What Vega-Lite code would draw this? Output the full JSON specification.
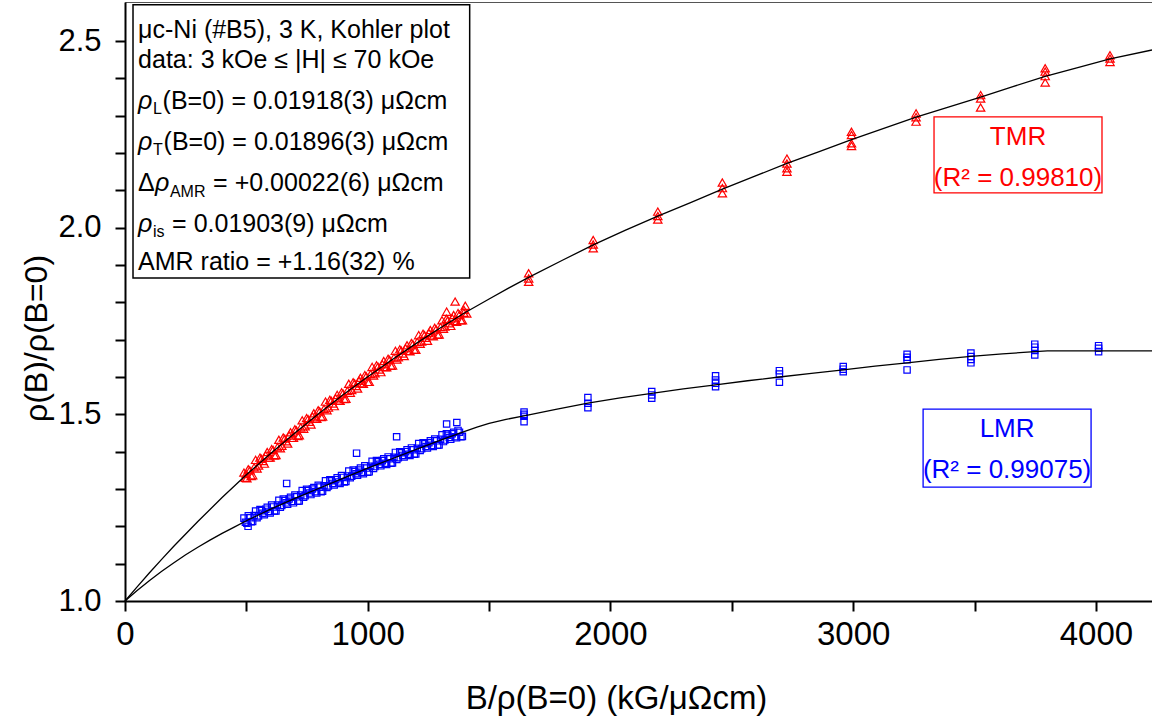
{
"$schema": "https://vega.github.io/schema/vega-lite/v6.json",
"width": 1027, "height": 599,
"autosize": "none",
"padding": {"left": 125, "top": 2, "right": 0, "bottom": 125},
"background": "white",
"config": {
  "view": {"stroke": "#555", "strokeWidth": 1},
  "axis": {"grid": false, "domainColor": "black", "domainWidth": 2, "tickColor": "black", "tickWidth": 2, "tickSize": 10, "labelColor": "black", "titleColor": "black", "labelFont": "Liberation Sans", "titleFont": "Liberation Sans", "titleFontWeight": "normal"}
},
"datasets": {
  "one": [{"k": 1}],
  "pts": [
    {"x":490,"y":1.344,"s":"TMR"},{"x":502,"y":1.329,"s":"TMR"},{"x":514,"y":1.350,"s":"TMR"},{"x":526,"y":1.337,"s":"TMR"},{"x":538,"y":1.378,"s":"TMR"},{"x":550,"y":1.363,"s":"TMR"},{"x":562,"y":1.381,"s":"TMR"},{"x":574,"y":1.368,"s":"TMR"},{"x":586,"y":1.399,"s":"TMR"},{"x":598,"y":1.384,"s":"TMR"},{"x":610,"y":1.405,"s":"TMR"},{"x":622,"y":1.391,"s":"TMR"},{"x":634,"y":1.432,"s":"TMR"},{"x":646,"y":1.416,"s":"TMR"},{"x":658,"y":1.435,"s":"TMR"},{"x":670,"y":1.422,"s":"TMR"},{"x":682,"y":1.452,"s":"TMR"},{"x":694,"y":1.437,"s":"TMR"},{"x":706,"y":1.457,"s":"TMR"},{"x":718,"y":1.444,"s":"TMR"},{"x":730,"y":1.484,"s":"TMR"},{"x":742,"y":1.468,"s":"TMR"},{"x":754,"y":1.487,"s":"TMR"},{"x":766,"y":1.473,"s":"TMR"},{"x":778,"y":1.503,"s":"TMR"},{"x":790,"y":1.488,"s":"TMR"},{"x":802,"y":1.508,"s":"TMR"},{"x":814,"y":1.494,"s":"TMR"},{"x":826,"y":1.534,"s":"TMR"},{"x":838,"y":1.518,"s":"TMR"},{"x":850,"y":1.536,"s":"TMR"},{"x":862,"y":1.522,"s":"TMR"},{"x":874,"y":1.552,"s":"TMR"},{"x":886,"y":1.536,"s":"TMR"},{"x":898,"y":1.556,"s":"TMR"},{"x":910,"y":1.542,"s":"TMR"},{"x":922,"y":1.582,"s":"TMR"},{"x":934,"y":1.565,"s":"TMR"},{"x":946,"y":1.583,"s":"TMR"},{"x":958,"y":1.569,"s":"TMR"},{"x":970,"y":1.598,"s":"TMR"},{"x":982,"y":1.582,"s":"TMR"},{"x":994,"y":1.602,"s":"TMR"},{"x":1006,"y":1.587,"s":"TMR"},{"x":1018,"y":1.627,"s":"TMR"},{"x":1030,"y":1.610,"s":"TMR"},{"x":1042,"y":1.628,"s":"TMR"},{"x":1054,"y":1.613,"s":"TMR"},{"x":1066,"y":1.643,"s":"TMR"},{"x":1078,"y":1.626,"s":"TMR"},{"x":1090,"y":1.646,"s":"TMR"},{"x":1102,"y":1.631,"s":"TMR"},{"x":1114,"y":1.670,"s":"TMR"},{"x":1126,"y":1.653,"s":"TMR"},{"x":1138,"y":1.671,"s":"TMR"},{"x":1150,"y":1.656,"s":"TMR"},{"x":1162,"y":1.685,"s":"TMR"},{"x":1174,"y":1.669,"s":"TMR"},{"x":1186,"y":1.688,"s":"TMR"},{"x":1198,"y":1.673,"s":"TMR"},{"x":1210,"y":1.712,"s":"TMR"},{"x":1222,"y":1.695,"s":"TMR"},{"x":1234,"y":1.712,"s":"TMR"},{"x":1246,"y":1.697,"s":"TMR"},{"x":1258,"y":1.726,"s":"TMR"},{"x":1270,"y":1.709,"s":"TMR"},{"x":1282,"y":1.728,"s":"TMR"},{"x":1294,"y":1.714,"s":"TMR"},{"x":1306,"y":1.752,"s":"TMR"},{"x":1318,"y":1.735,"s":"TMR"},{"x":1330,"y":1.752,"s":"TMR"},{"x":1342,"y":1.737,"s":"TMR"},{"x":1354,"y":1.766,"s":"TMR"},{"x":1366,"y":1.748,"s":"TMR"},{"x":1378,"y":1.767,"s":"TMR"},{"x":1390,"y":1.752,"s":"TMR"},{"x":1402,"y":1.791,"s":"TMR"},
    {"x":496,"y":1.330,"s":"TMR"},{"x":508,"y":1.353,"s":"TMR"},{"x":520,"y":1.335,"s":"TMR"},{"x":532,"y":1.358,"s":"TMR"},{"x":544,"y":1.355,"s":"TMR"},{"x":556,"y":1.384,"s":"TMR"},{"x":568,"y":1.375,"s":"TMR"},{"x":580,"y":1.390,"s":"TMR"},{"x":592,"y":1.384,"s":"TMR"},{"x":604,"y":1.407,"s":"TMR"},{"x":616,"y":1.390,"s":"TMR"},{"x":628,"y":1.412,"s":"TMR"},{"x":640,"y":1.409,"s":"TMR"},{"x":652,"y":1.438,"s":"TMR"},{"x":664,"y":1.428,"s":"TMR"},{"x":676,"y":1.443,"s":"TMR"},{"x":688,"y":1.437,"s":"TMR"},{"x":700,"y":1.460,"s":"TMR"},{"x":712,"y":1.442,"s":"TMR"},{"x":724,"y":1.465,"s":"TMR"},{"x":736,"y":1.461,"s":"TMR"},{"x":748,"y":1.490,"s":"TMR"},{"x":760,"y":1.480,"s":"TMR"},{"x":772,"y":1.494,"s":"TMR"},{"x":784,"y":1.489,"s":"TMR"},{"x":796,"y":1.511,"s":"TMR"},{"x":808,"y":1.493,"s":"TMR"},{"x":820,"y":1.515,"s":"TMR"},{"x":832,"y":1.511,"s":"TMR"},{"x":844,"y":1.539,"s":"TMR"},{"x":856,"y":1.529,"s":"TMR"},{"x":868,"y":1.543,"s":"TMR"},{"x":880,"y":1.537,"s":"TMR"},{"x":892,"y":1.559,"s":"TMR"},{"x":904,"y":1.541,"s":"TMR"},{"x":916,"y":1.563,"s":"TMR"},{"x":928,"y":1.558,"s":"TMR"},{"x":940,"y":1.586,"s":"TMR"},{"x":952,"y":1.576,"s":"TMR"},{"x":964,"y":1.590,"s":"TMR"},{"x":976,"y":1.583,"s":"TMR"},{"x":988,"y":1.605,"s":"TMR"},{"x":1000,"y":1.587,"s":"TMR"},{"x":1012,"y":1.608,"s":"TMR"},{"x":1024,"y":1.604,"s":"TMR"},{"x":1036,"y":1.631,"s":"TMR"},{"x":1048,"y":1.620,"s":"TMR"},{"x":1060,"y":1.634,"s":"TMR"},{"x":1072,"y":1.627,"s":"TMR"},{"x":1084,"y":1.649,"s":"TMR"},{"x":1096,"y":1.630,"s":"TMR"},{"x":1108,"y":1.652,"s":"TMR"},{"x":1120,"y":1.647,"s":"TMR"},{"x":1132,"y":1.674,"s":"TMR"},{"x":1144,"y":1.663,"s":"TMR"},{"x":1156,"y":1.677,"s":"TMR"},{"x":1168,"y":1.670,"s":"TMR"},{"x":1180,"y":1.691,"s":"TMR"},{"x":1192,"y":1.673,"s":"TMR"},{"x":1204,"y":1.694,"s":"TMR"},{"x":1216,"y":1.689,"s":"TMR"},{"x":1228,"y":1.716,"s":"TMR"},{"x":1240,"y":1.705,"s":"TMR"},{"x":1252,"y":1.718,"s":"TMR"},{"x":1264,"y":1.711,"s":"TMR"},{"x":1276,"y":1.732,"s":"TMR"},{"x":1288,"y":1.713,"s":"TMR"},{"x":1300,"y":1.734,"s":"TMR"},{"x":1312,"y":1.729,"s":"TMR"},{"x":1324,"y":1.756,"s":"TMR"},{"x":1336,"y":1.744,"s":"TMR"},{"x":1348,"y":1.757,"s":"TMR"},{"x":1360,"y":1.750,"s":"TMR"},{"x":1372,"y":1.771,"s":"TMR"},{"x":1384,"y":1.752,"s":"TMR"},{"x":1396,"y":1.772,"s":"TMR"},
    {"x":1360,"y":1.802,"s":"TMR"},{"x":1325,"y":1.775,"s":"TMR"},{"x":499,"y":1.340,"s":"TMR"},{"x":1396,"y":1.780,"s":"TMR"},{"x":1408,"y":1.770,"s":"TMR"},
    {"x":1663,"y":1.878,"s":"TMR"},{"x":1663,"y":1.864,"s":"TMR"},{"x":1663,"y":1.855,"s":"TMR"},
    {"x":1929,"y":1.967,"s":"TMR"},{"x":1929,"y":1.955,"s":"TMR"},{"x":1929,"y":1.945,"s":"TMR"},
    {"x":2195,"y":2.043,"s":"TMR"},{"x":2195,"y":2.031,"s":"TMR"},{"x":2195,"y":2.022,"s":"TMR"},
    {"x":2461,"y":2.121,"s":"TMR"},{"x":2461,"y":2.106,"s":"TMR"},{"x":2461,"y":2.092,"s":"TMR"},
    {"x":2727,"y":2.185,"s":"TMR"},{"x":2727,"y":2.172,"s":"TMR"},{"x":2727,"y":2.159,"s":"TMR"},{"x":2727,"y":2.150,"s":"TMR"},
    {"x":2993,"y":2.257,"s":"TMR"},{"x":2993,"y":2.248,"s":"TMR"},{"x":2993,"y":2.226,"s":"TMR"},{"x":2993,"y":2.219,"s":"TMR"},
    {"x":3259,"y":2.306,"s":"TMR"},{"x":3259,"y":2.296,"s":"TMR"},{"x":3259,"y":2.284,"s":"TMR"},
    {"x":3525,"y":2.355,"s":"TMR"},{"x":3525,"y":2.346,"s":"TMR"},{"x":3525,"y":2.322,"s":"TMR"},
    {"x":3791,"y":2.427,"s":"TMR"},{"x":3791,"y":2.418,"s":"TMR"},{"x":3791,"y":2.406,"s":"TMR"},{"x":3791,"y":2.389,"s":"TMR"},
    {"x":4058,"y":2.462,"s":"TMR"},{"x":4058,"y":2.453,"s":"TMR"},{"x":4058,"y":2.444,"s":"TMR"},
    {"x":490,"y":1.222,"s":"LMR"},{"x":502,"y":1.208,"s":"LMR"},{"x":514,"y":1.223,"s":"LMR"},{"x":526,"y":1.213,"s":"LMR"},{"x":538,"y":1.241,"s":"LMR"},{"x":550,"y":1.228,"s":"LMR"},{"x":562,"y":1.242,"s":"LMR"},{"x":574,"y":1.231,"s":"LMR"},{"x":586,"y":1.251,"s":"LMR"},{"x":598,"y":1.236,"s":"LMR"},{"x":610,"y":1.252,"s":"LMR"},{"x":622,"y":1.241,"s":"LMR"},{"x":634,"y":1.270,"s":"LMR"},{"x":646,"y":1.256,"s":"LMR"},{"x":658,"y":1.269,"s":"LMR"},{"x":670,"y":1.259,"s":"LMR"},{"x":682,"y":1.278,"s":"LMR"},{"x":694,"y":1.263,"s":"LMR"},{"x":706,"y":1.279,"s":"LMR"},{"x":718,"y":1.268,"s":"LMR"},{"x":730,"y":1.296,"s":"LMR"},{"x":742,"y":1.282,"s":"LMR"},{"x":754,"y":1.296,"s":"LMR"},{"x":766,"y":1.285,"s":"LMR"},{"x":778,"y":1.304,"s":"LMR"},{"x":790,"y":1.289,"s":"LMR"},{"x":802,"y":1.305,"s":"LMR"},{"x":814,"y":1.294,"s":"LMR"},{"x":826,"y":1.322,"s":"LMR"},{"x":838,"y":1.308,"s":"LMR"},{"x":850,"y":1.322,"s":"LMR"},{"x":862,"y":1.311,"s":"LMR"},{"x":874,"y":1.330,"s":"LMR"},{"x":886,"y":1.315,"s":"LMR"},{"x":898,"y":1.331,"s":"LMR"},{"x":910,"y":1.320,"s":"LMR"},{"x":922,"y":1.348,"s":"LMR"},{"x":934,"y":1.334,"s":"LMR"},{"x":946,"y":1.347,"s":"LMR"},{"x":958,"y":1.337,"s":"LMR"},{"x":970,"y":1.356,"s":"LMR"},{"x":982,"y":1.341,"s":"LMR"},{"x":994,"y":1.356,"s":"LMR"},{"x":1006,"y":1.346,"s":"LMR"},{"x":1018,"y":1.374,"s":"LMR"},{"x":1030,"y":1.360,"s":"LMR"},{"x":1042,"y":1.373,"s":"LMR"},{"x":1054,"y":1.362,"s":"LMR"},{"x":1066,"y":1.381,"s":"LMR"},{"x":1078,"y":1.366,"s":"LMR"},{"x":1090,"y":1.381,"s":"LMR"},{"x":1102,"y":1.370,"s":"LMR"},{"x":1114,"y":1.398,"s":"LMR"},{"x":1126,"y":1.384,"s":"LMR"},{"x":1138,"y":1.397,"s":"LMR"},{"x":1150,"y":1.386,"s":"LMR"},{"x":1162,"y":1.405,"s":"LMR"},{"x":1174,"y":1.390,"s":"LMR"},{"x":1186,"y":1.405,"s":"LMR"},{"x":1198,"y":1.394,"s":"LMR"},{"x":1210,"y":1.422,"s":"LMR"},{"x":1222,"y":1.408,"s":"LMR"},{"x":1234,"y":1.421,"s":"LMR"},{"x":1246,"y":1.410,"s":"LMR"},{"x":1258,"y":1.429,"s":"LMR"},{"x":1270,"y":1.414,"s":"LMR"},{"x":1282,"y":1.429,"s":"LMR"},{"x":1294,"y":1.418,"s":"LMR"},{"x":1306,"y":1.445,"s":"LMR"},{"x":1318,"y":1.431,"s":"LMR"},{"x":1330,"y":1.444,"s":"LMR"},{"x":1342,"y":1.433,"s":"LMR"},{"x":1354,"y":1.452,"s":"LMR"},{"x":1366,"y":1.437,"s":"LMR"},{"x":1378,"y":1.452,"s":"LMR"},{"x":1390,"y":1.441,"s":"LMR"},
    {"x":496,"y":1.211,"s":"LMR"},{"x":508,"y":1.228,"s":"LMR"},{"x":520,"y":1.212,"s":"LMR"},{"x":532,"y":1.229,"s":"LMR"},{"x":544,"y":1.223,"s":"LMR"},{"x":556,"y":1.245,"s":"LMR"},{"x":568,"y":1.235,"s":"LMR"},{"x":580,"y":1.246,"s":"LMR"},{"x":592,"y":1.240,"s":"LMR"},{"x":604,"y":1.257,"s":"LMR"},{"x":616,"y":1.241,"s":"LMR"},{"x":628,"y":1.257,"s":"LMR"},{"x":640,"y":1.251,"s":"LMR"},{"x":652,"y":1.273,"s":"LMR"},{"x":664,"y":1.263,"s":"LMR"},{"x":676,"y":1.273,"s":"LMR"},{"x":688,"y":1.267,"s":"LMR"},{"x":700,"y":1.284,"s":"LMR"},{"x":712,"y":1.267,"s":"LMR"},{"x":724,"y":1.284,"s":"LMR"},{"x":736,"y":1.278,"s":"LMR"},{"x":748,"y":1.299,"s":"LMR"},{"x":760,"y":1.289,"s":"LMR"},{"x":772,"y":1.300,"s":"LMR"},{"x":784,"y":1.293,"s":"LMR"},{"x":796,"y":1.310,"s":"LMR"},{"x":808,"y":1.293,"s":"LMR"},{"x":820,"y":1.309,"s":"LMR"},{"x":832,"y":1.304,"s":"LMR"},{"x":844,"y":1.325,"s":"LMR"},{"x":856,"y":1.315,"s":"LMR"},{"x":868,"y":1.325,"s":"LMR"},{"x":880,"y":1.319,"s":"LMR"},{"x":892,"y":1.336,"s":"LMR"},{"x":904,"y":1.319,"s":"LMR"},{"x":916,"y":1.335,"s":"LMR"},{"x":928,"y":1.330,"s":"LMR"},{"x":940,"y":1.351,"s":"LMR"},{"x":952,"y":1.341,"s":"LMR"},{"x":964,"y":1.351,"s":"LMR"},{"x":976,"y":1.345,"s":"LMR"},{"x":988,"y":1.362,"s":"LMR"},{"x":1000,"y":1.345,"s":"LMR"},{"x":1012,"y":1.361,"s":"LMR"},{"x":1024,"y":1.355,"s":"LMR"},{"x":1036,"y":1.376,"s":"LMR"},{"x":1048,"y":1.366,"s":"LMR"},{"x":1060,"y":1.376,"s":"LMR"},{"x":1072,"y":1.369,"s":"LMR"},{"x":1084,"y":1.386,"s":"LMR"},{"x":1096,"y":1.369,"s":"LMR"},{"x":1108,"y":1.385,"s":"LMR"},{"x":1120,"y":1.379,"s":"LMR"},{"x":1132,"y":1.400,"s":"LMR"},{"x":1144,"y":1.390,"s":"LMR"},{"x":1156,"y":1.400,"s":"LMR"},{"x":1168,"y":1.393,"s":"LMR"},{"x":1180,"y":1.410,"s":"LMR"},{"x":1192,"y":1.393,"s":"LMR"},{"x":1204,"y":1.409,"s":"LMR"},{"x":1216,"y":1.403,"s":"LMR"},{"x":1228,"y":1.424,"s":"LMR"},{"x":1240,"y":1.414,"s":"LMR"},{"x":1252,"y":1.424,"s":"LMR"},{"x":1264,"y":1.417,"s":"LMR"},{"x":1276,"y":1.434,"s":"LMR"},{"x":1288,"y":1.417,"s":"LMR"},{"x":1300,"y":1.433,"s":"LMR"},{"x":1312,"y":1.427,"s":"LMR"},{"x":1324,"y":1.448,"s":"LMR"},{"x":1336,"y":1.438,"s":"LMR"},{"x":1348,"y":1.448,"s":"LMR"},{"x":1360,"y":1.440,"s":"LMR"},{"x":1372,"y":1.457,"s":"LMR"},{"x":1384,"y":1.440,"s":"LMR"},
    {"x":1325,"y":1.474,"s":"LMR"},{"x":1367,"y":1.478,"s":"LMR"},{"x":1119,"y":1.440,"s":"LMR"},{"x":954,"y":1.396,"s":"LMR"},{"x":666,"y":1.315,"s":"LMR"},{"x":507,"y":1.200,"s":"LMR"},
    {"x":1644,"y":1.506,"s":"LMR"},{"x":1644,"y":1.500,"s":"LMR"},{"x":1644,"y":1.495,"s":"LMR"},{"x":1644,"y":1.480,"s":"LMR"},
    {"x":1907,"y":1.545,"s":"LMR"},{"x":1907,"y":1.530,"s":"LMR"},{"x":1907,"y":1.518,"s":"LMR"},
    {"x":2170,"y":1.561,"s":"LMR"},{"x":2170,"y":1.552,"s":"LMR"},{"x":2170,"y":1.543,"s":"LMR"},
    {"x":2433,"y":1.603,"s":"LMR"},{"x":2433,"y":1.592,"s":"LMR"},{"x":2433,"y":1.583,"s":"LMR"},{"x":2433,"y":1.574,"s":"LMR"},
    {"x":2696,"y":1.617,"s":"LMR"},{"x":2696,"y":1.608,"s":"LMR"},{"x":2696,"y":1.586,"s":"LMR"},
    {"x":2959,"y":1.628,"s":"LMR"},{"x":2959,"y":1.621,"s":"LMR"},{"x":2959,"y":1.614,"s":"LMR"},
    {"x":3222,"y":1.661,"s":"LMR"},{"x":3222,"y":1.653,"s":"LMR"},{"x":3222,"y":1.646,"s":"LMR"},{"x":3222,"y":1.619,"s":"LMR"},
    {"x":3485,"y":1.664,"s":"LMR"},{"x":3485,"y":1.655,"s":"LMR"},{"x":3485,"y":1.647,"s":"LMR"},{"x":3485,"y":1.638,"s":"LMR"},
    {"x":3748,"y":1.688,"s":"LMR"},{"x":3748,"y":1.680,"s":"LMR"},{"x":3748,"y":1.671,"s":"LMR"},{"x":3748,"y":1.659,"s":"LMR"},
    {"x":4011,"y":1.684,"s":"LMR"},{"x":4011,"y":1.677,"s":"LMR"},{"x":4011,"y":1.668,"s":"LMR"}
  ],
  "fit": [
    {"x":0,"y":1.000,"s":"TMR"},{"x":50,"y":1.038,"s":"TMR"},{"x":100,"y":1.075,"s":"TMR"},{"x":150,"y":1.111,"s":"TMR"},{"x":200,"y":1.146,"s":"TMR"},{"x":300,"y":1.213,"s":"TMR"},{"x":400,"y":1.277,"s":"TMR"},{"x":500,"y":1.338,"s":"TMR"},{"x":600,"y":1.395,"s":"TMR"},{"x":700,"y":1.450,"s":"TMR"},{"x":800,"y":1.503,"s":"TMR"},{"x":900,"y":1.553,"s":"TMR"},{"x":1000,"y":1.6005,"s":"TMR"},{"x":1100,"y":1.646,"s":"TMR"},{"x":1200,"y":1.690,"s":"TMR"},{"x":1300,"y":1.732,"s":"TMR"},{"x":1400,"y":1.772,"s":"TMR"},{"x":1500,"y":1.809,"s":"TMR"},{"x":1580,"y":1.838,"s":"TMR"},{"x":1663,"y":1.867,"s":"TMR"},{"x":1800,"y":1.912,"s":"TMR"},{"x":1929,"y":1.954,"s":"TMR"},{"x":2060,"y":1.993,"s":"TMR"},{"x":2195,"y":2.031,"s":"TMR"},{"x":2330,"y":2.067,"s":"TMR"},{"x":2461,"y":2.103,"s":"TMR"},{"x":2595,"y":2.138,"s":"TMR"},{"x":2727,"y":2.172,"s":"TMR"},{"x":2860,"y":2.204,"s":"TMR"},{"x":2993,"y":2.236,"s":"TMR"},{"x":3126,"y":2.266,"s":"TMR"},{"x":3259,"y":2.296,"s":"TMR"},{"x":3392,"y":2.323,"s":"TMR"},{"x":3525,"y":2.350,"s":"TMR"},{"x":3658,"y":2.378,"s":"TMR"},{"x":3791,"y":2.405,"s":"TMR"},{"x":3925,"y":2.429,"s":"TMR"},{"x":4058,"y":2.452,"s":"TMR"},{"x":4231,"y":2.476,"s":"TMR"},
    {"x":0,"y":1.000,"s":"LMR"},{"x":50,"y":1.028,"s":"LMR"},{"x":100,"y":1.054,"s":"LMR"},{"x":150,"y":1.079,"s":"LMR"},{"x":200,"y":1.102,"s":"LMR"},{"x":250,"y":1.124,"s":"LMR"},{"x":300,"y":1.144,"s":"LMR"},{"x":350,"y":1.163,"s":"LMR"},{"x":400,"y":1.181,"s":"LMR"},{"x":450,"y":1.198,"s":"LMR"},{"x":500,"y":1.215,"s":"LMR"},{"x":600,"y":1.246,"s":"LMR"},{"x":700,"y":1.275,"s":"LMR"},{"x":800,"y":1.302,"s":"LMR"},{"x":900,"y":1.329,"s":"LMR"},{"x":1000,"y":1.356,"s":"LMR"},{"x":1100,"y":1.381,"s":"LMR"},{"x":1200,"y":1.406,"s":"LMR"},{"x":1300,"y":1.431,"s":"LMR"},{"x":1400,"y":1.4545,"s":"LMR"},{"x":1450,"y":1.4655,"s":"LMR"},{"x":1500,"y":1.4755,"s":"LMR"},{"x":1570,"y":1.4865,"s":"LMR"},{"x":1644,"y":1.4960,"s":"LMR"},{"x":1775,"y":1.513,"s":"LMR"},{"x":1907,"y":1.530,"s":"LMR"},{"x":2040,"y":1.544,"s":"LMR"},{"x":2170,"y":1.556,"s":"LMR"},{"x":2300,"y":1.568,"s":"LMR"},{"x":2433,"y":1.579,"s":"LMR"},{"x":2565,"y":1.590,"s":"LMR"},{"x":2696,"y":1.600,"s":"LMR"},{"x":2828,"y":1.610,"s":"LMR"},{"x":2959,"y":1.619,"s":"LMR"},{"x":3090,"y":1.629,"s":"LMR"},{"x":3222,"y":1.638,"s":"LMR"},{"x":3354,"y":1.647,"s":"LMR"},{"x":3485,"y":1.655,"s":"LMR"},{"x":3615,"y":1.662,"s":"LMR"},{"x":3748,"y":1.668,"s":"LMR"},{"x":3800,"y":1.670,"s":"LMR"},{"x":4231,"y":1.670,"s":"LMR"}
  ]
},
"layer": [
  {
    "data": {"name": "pts"},
    "mark": {"type": "point", "filled": false, "strokeWidth": 1.2, "opacity": 1},
    "encoding": {
      "x": {"field": "x", "type": "quantitative", "scale": {"domain": [0, 4231], "nice": false, "zero": false},
        "axis": {"values": [0,500,1000,1500,2000,2500,3000,3500,4000], "tickCount": 20, "labelExpr": "datum.value % 1000 == 0 ? format(datum.value, 'd') : ''", "labelFontSize": 33, "labelPadding": 7, "labelOverlap": false, "labelFlush": false,
          "title": "B/ρ(B=0) (kG/μΩcm)", "titleFontSize": 33, "titleX": 491, "titleY": 97, "titleBaseline": "middle"}},
      "y": {"field": "y", "type": "quantitative", "scale": {"domain": [1, 2.6045], "nice": false, "zero": false},
        "axis": {"values": [1,1.1,1.2,1.3,1.4,1.5,1.6,1.7,1.8,1.9,2,2.1,2.2,2.3,2.4,2.5], "tickCount": 30, "labelExpr": "abs(datum.value*2 - round(datum.value*2)) < 0.001 ? format(datum.value, '.1f') : ''", "labelFontSize": 31, "labelPadding": 14, "labelOverlap": false, "labelFlush": false,
          "title": "ρ(B)/ρ(B=0)", "titleFontSize": 32, "titleX": -89, "titleY": 336, "titleBaseline": "middle", "titleAngle": -90}},
      "color": {"field": "s", "type": "nominal", "scale": {"domain": ["TMR", "LMR"], "range": ["#ff0000", "#0000ff"]}, "legend": null},
      "shape": {"field": "s", "type": "nominal", "scale": {"domain": ["TMR", "LMR"], "range": ["triangle-up", "square"]}, "legend": null},
      "size": {"field": "s", "type": "nominal", "scale": {"domain": ["TMR", "LMR"], "range": [70, 40]}, "legend": null}
    }
  },
  {
    "data": {"name": "fit"},
    "mark": {"type": "line", "color": "black", "strokeWidth": 1.3},
    "encoding": {
      "x": {"field": "x", "type": "quantitative"},
      "y": {"field": "y", "type": "quantitative"},
      "detail": {"field": "s", "type": "nominal"}
    }
  },
  {
    "data": {"name": "one"},
    "mark": {"type": "rect", "fill": "white", "stroke": "black", "strokeWidth": 1.5},
    "encoding": {"x": {"datum": 33, "type": "quantitative"}, "x2": {"datum": 1420}, "y": {"datum": 2.597, "type": "quantitative"}, "y2": {"datum": 1.865}}
  },
  {
    "data": {"name": "one"},
    "mark": {"type": "rect", "fill": "white", "stroke": "#ff0000", "strokeWidth": 1.3},
    "encoding": {"x": {"datum": 3333, "type": "quantitative"}, "x2": {"datum": 4025}, "y": {"datum": 2.2966, "type": "quantitative"}, "y2": {"datum": 2.093}}
  },
  {
    "data": {"name": "one"},
    "mark": {"type": "rect", "fill": "white", "stroke": "#0000ff", "strokeWidth": 1.3},
    "encoding": {"x": {"datum": 3288, "type": "quantitative"}, "x2": {"datum": 3980}, "y": {"datum": 1.514, "type": "quantitative"}, "y2": {"datum": 1.305}}
  },
  {"data": {"name": "one"}, "mark": {"type": "text", "align": "center", "baseline": "alphabetic", "font": "Liberation Sans", "fontSize": 26, "color": "#ff0000", "text": "TMR"},
   "encoding": {"x": {"datum": 3679, "type": "quantitative"}, "y": {"datum": 2.2214, "type": "quantitative"}}},
  {"data": {"name": "one"}, "mark": {"type": "text", "align": "center", "baseline": "alphabetic", "font": "Liberation Sans", "fontSize": 26, "color": "#ff0000", "text": "(R² = 0.99810)"},
   "encoding": {"x": {"datum": 3679, "type": "quantitative"}, "y": {"datum": 2.1116, "type": "quantitative"}}},
  {"data": {"name": "one"}, "mark": {"type": "text", "align": "center", "baseline": "alphabetic", "font": "Liberation Sans", "fontSize": 26, "color": "#0000ff", "text": "LMR"},
   "encoding": {"x": {"datum": 3634, "type": "quantitative"}, "y": {"datum": 1.4393, "type": "quantitative"}}},
  {"data": {"name": "one"}, "mark": {"type": "text", "align": "center", "baseline": "alphabetic", "font": "Liberation Sans", "fontSize": 26, "color": "#0000ff", "text": "(R² = 0.99075)"},
   "encoding": {"x": {"datum": 3634, "type": "quantitative"}, "y": {"datum": 1.3295, "type": "quantitative"}}},
  {"data": {"name": "one"}, "mark": {"type": "text", "align": "left", "baseline": "alphabetic", "font": "Liberation Sans", "fontSize": 25, "color": "black", "text": "μc-Ni (#B5), 3 K, Kohler plot"},
   "encoding": {"x": {"datum": 54, "type": "quantitative"}, "y": {"datum": 2.5094, "type": "quantitative"}}},
  {"data": {"name": "one"}, "mark": {"type": "text", "align": "left", "baseline": "alphabetic", "font": "Liberation Sans", "fontSize": 25, "color": "black", "text": "data: 3 kOe ≤ |H| ≤ 70 kOe"},
   "encoding": {"x": {"datum": 54, "type": "quantitative"}, "y": {"datum": 2.4264, "type": "quantitative"}}},
  {"data": {"name": "one"}, "mark": {"type": "text", "align": "left", "baseline": "alphabetic", "font": "Liberation Sans", "fontSize": 25, "fontStyle": "italic", "color": "black", "text": "ρ"},
   "encoding": {"x": {"datum": 54, "type": "quantitative"}, "y": {"datum": 2.3192, "type": "quantitative"}}},
  {"data": {"name": "one"}, "mark": {"type": "text", "align": "left", "baseline": "alphabetic", "font": "Liberation Sans", "fontSize": 16, "color": "black", "text": "L"},
   "encoding": {"x": {"datum": 115, "type": "quantitative"}, "y": {"datum": 2.3058, "type": "quantitative"}}},
  {"data": {"name": "one"}, "mark": {"type": "text", "align": "left", "baseline": "alphabetic", "font": "Liberation Sans", "fontSize": 25, "color": "black", "text": "(B=0) = 0.01918(3) μΩcm"},
   "encoding": {"x": {"datum": 155, "type": "quantitative"}, "y": {"datum": 2.3192, "type": "quantitative"}}},
  {"data": {"name": "one"}, "mark": {"type": "text", "align": "left", "baseline": "alphabetic", "font": "Liberation Sans", "fontSize": 25, "fontStyle": "italic", "color": "black", "text": "ρ"},
   "encoding": {"x": {"datum": 54, "type": "quantitative"}, "y": {"datum": 2.2094, "type": "quantitative"}}},
  {"data": {"name": "one"}, "mark": {"type": "text", "align": "left", "baseline": "alphabetic", "font": "Liberation Sans", "fontSize": 16, "color": "black", "text": "T"},
   "encoding": {"x": {"datum": 115, "type": "quantitative"}, "y": {"datum": 2.196, "type": "quantitative"}}},
  {"data": {"name": "one"}, "mark": {"type": "text", "align": "left", "baseline": "alphabetic", "font": "Liberation Sans", "fontSize": 25, "color": "black", "text": "(B=0) = 0.01896(3) μΩcm"},
   "encoding": {"x": {"datum": 159, "type": "quantitative"}, "y": {"datum": 2.2094, "type": "quantitative"}}},
  {"data": {"name": "one"}, "mark": {"type": "text", "align": "left", "baseline": "alphabetic", "font": "Liberation Sans", "fontSize": 25, "color": "black", "text": "Δ"},
   "encoding": {"x": {"datum": 54, "type": "quantitative"}, "y": {"datum": 2.0969, "type": "quantitative"}}},
  {"data": {"name": "one"}, "mark": {"type": "text", "align": "left", "baseline": "alphabetic", "font": "Liberation Sans", "fontSize": 25, "fontStyle": "italic", "color": "black", "text": "ρ"},
   "encoding": {"x": {"datum": 124, "type": "quantitative"}, "y": {"datum": 2.0969, "type": "quantitative"}}},
  {"data": {"name": "one"}, "mark": {"type": "text", "align": "left", "baseline": "alphabetic", "font": "Liberation Sans", "fontSize": 16, "color": "black", "text": "AMR"},
   "encoding": {"x": {"datum": 185, "type": "quantitative"}, "y": {"datum": 2.0835, "type": "quantitative"}}},
  {"data": {"name": "one"}, "mark": {"type": "text", "align": "left", "baseline": "alphabetic", "font": "Liberation Sans", "fontSize": 25, "color": "black", "text": "= +0.00022(6) μΩcm"},
   "encoding": {"x": {"datum": 363, "type": "quantitative"}, "y": {"datum": 2.0969, "type": "quantitative"}}},
  {"data": {"name": "one"}, "mark": {"type": "text", "align": "left", "baseline": "alphabetic", "font": "Liberation Sans", "fontSize": 25, "fontStyle": "italic", "color": "black", "text": "ρ"},
   "encoding": {"x": {"datum": 54, "type": "quantitative"}, "y": {"datum": 1.9871, "type": "quantitative"}}},
  {"data": {"name": "one"}, "mark": {"type": "text", "align": "left", "baseline": "alphabetic", "font": "Liberation Sans", "fontSize": 16, "color": "black", "text": "is"},
   "encoding": {"x": {"datum": 115, "type": "quantitative"}, "y": {"datum": 1.9737, "type": "quantitative"}}},
  {"data": {"name": "one"}, "mark": {"type": "text", "align": "left", "baseline": "alphabetic", "font": "Liberation Sans", "fontSize": 25, "color": "black", "text": "= 0.01903(9) μΩcm"},
   "encoding": {"x": {"datum": 194, "type": "quantitative"}, "y": {"datum": 1.9871, "type": "quantitative"}}},
  {"data": {"name": "one"}, "mark": {"type": "text", "align": "left", "baseline": "alphabetic", "font": "Liberation Sans", "fontSize": 25, "color": "black", "text": "AMR ratio = +1.16(32) %"},
   "encoding": {"x": {"datum": 54, "type": "quantitative"}, "y": {"datum": 1.8853, "type": "quantitative"}}}
]
}
